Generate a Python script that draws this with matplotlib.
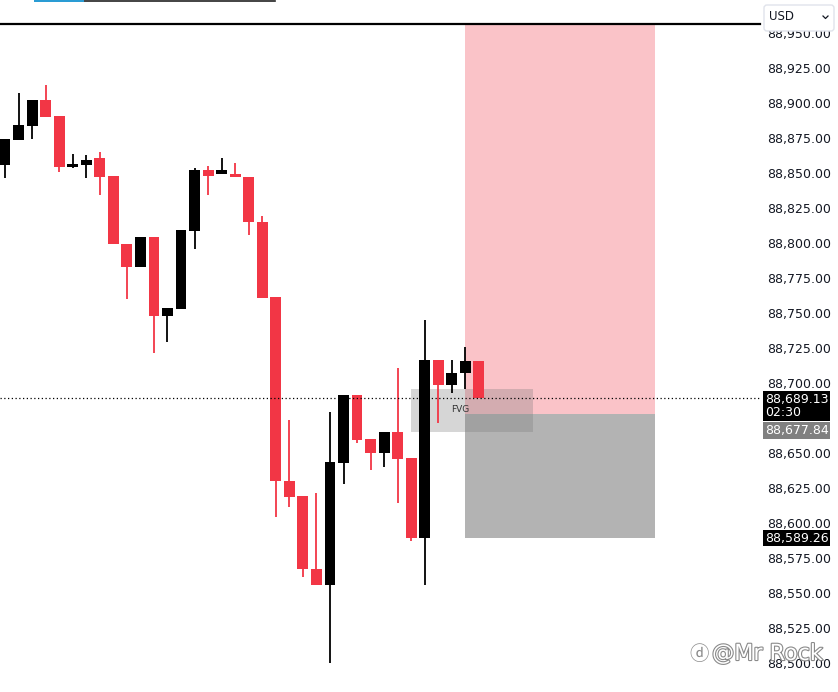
import matplotlib
matplotlib.use('Agg')
import matplotlib.pyplot as plt
import matplotlib.patheffects as pe
from matplotlib.patches import Rectangle, FancyBboxPatch
from matplotlib.lines import Line2D
from matplotlib.transforms import IdentityTransform
from matplotlib.ticker import FuncFormatter

# candle data
opens = [88855.7, 88873.6, 88883.6, 88902.1, 88890.7, 88854.3, 88855.7, 88860.7, 88847.9, 88799.3,
         88782.9, 88804.3, 88747.9, 88752.9, 88808.6, 88852.1, 88849.3, 88849.3, 88847.1, 88815.0,
         88761.4, 88630.0, 88619.3, 88567.1, 88555.7, 88642.9, 88691.4, 88660.0, 88650.0, 88665.0,
         88646.4, 88589.3, 88716.4, 88698.6, 88707.1, 88715.7]
highs = [88874.3, 88907.1, 88902.1, 88912.9, 88890.7, 88863.6, 88862.9, 88865.0, 88847.9, 88799.3,
         88804.3, 88804.3, 88753.6, 88809.3, 88853.6, 88855.0, 88860.7, 88857.1, 88847.1, 88819.3,
         88761.4, 88673.6, 88619.3, 88621.4, 88679.3, 88691.4, 88691.4, 88660.0, 88665.0, 88710.7,
         88646.4, 88745.0, 88716.4, 88716.4, 88725.7, 88715.7]
lows = [88846.4, 88873.6, 88874.3, 88890.0, 88850.7, 88853.6, 88846.4, 88834.3, 88799.3, 88760.0,
        88782.9, 88721.4, 88729.3, 88752.9, 88795.7, 88834.3, 88849.3, 88847.1, 88805.7, 88760.7,
        88604.3, 88611.4, 88561.4, 88555.7, 88500.0, 88627.9, 88657.1, 88637.9, 88640.0, 88614.3,
        88587.1, 88555.7, 88671.4, 88692.9, 88695.7, 88689.13]
closes = [88874.3, 88884.3, 88902.1, 88890.0, 88854.3, 88856.4, 88859.3, 88847.1, 88799.3, 88782.9,
          88804.3, 88747.9, 88753.6, 88809.3, 88852.1, 88847.9, 88852.1, 88847.1, 88815.0, 88760.7,
          88630.0, 88618.6, 88567.1, 88555.7, 88643.6, 88691.4, 88659.3, 88650.0, 88665.0, 88645.7,
          88589.3, 88716.4, 88698.6, 88707.1, 88715.7, 88689.13]

last_price = 88689.13
entry_price = 88677.84
target_price = 88589.26
timer_text = "02:30"
fvg_top, fvg_bottom = 88695.7, 88665.0
fvg_start, fvg_end = 30, 39
pos_start, pos_end = 34, 48
# 88,675 sits under the price labels on the scale, so it is not shown
y_ticks = [v for v in range(88500, 88951, 25) if v != 88675]

RED = '#F23645'
W, H = 838, 692

fig = plt.figure(figsize=(W / 100, H / 100), dpi=100)
ax = fig.add_axes([0, 0, 760 / W, (H - 24) / H])
ax.set_xlim(-0.37, 55.76)
ax.set_ylim(88479.3, 88956.4)

# short position tool
ax.add_patch(Rectangle((pos_start, entry_price), pos_end - pos_start, 400, color='#FAC3C8', lw=0, zorder=1))
ax.add_patch(Rectangle((pos_start, target_price), pos_end - pos_start, entry_price - target_price,
                       color='#B3B3B3', lw=0, zorder=1))

# fair value gap
ax.add_patch(Rectangle((fvg_start, fvg_bottom), fvg_end - fvg_start, fvg_top - fvg_bottom,
                       color='#7a7a7a', alpha=0.3, lw=0, zorder=2))
ax.text((fvg_start + fvg_end) / 2 - 0.9, (fvg_top + fvg_bottom) / 2 + 1, 'FVG', fontsize=6.5,
        color='#333333', ha='center', va='center', zorder=2)

# candles
for i in range(len(opens)):
    o, hi, lo, c = opens[i], highs[i], lows[i], closes[i]
    col = 'black' if c >= o else RED
    ax.vlines(i, lo, hi, color=col, lw=1.3, zorder=3)
    ax.add_patch(Rectangle((i - 0.4, min(o, c)), 0.8, max(abs(c - o), 1.2), color=col, lw=0, zorder=4))

ax.axhline(last_price, color='black', ls=(0, (1, 2)), lw=0.9, zorder=5)

for s in ['left', 'right', 'bottom']:
    ax.spines[s].set_visible(False)
ax.spines['top'].set_linewidth(1.6)
ax.set_xticks([])
ax.yaxis.tick_right()
ax.set_yticks(y_ticks)
ax.yaxis.set_major_formatter(FuncFormatter(lambda v, p: f"{v:,.2f}"))
ax.tick_params(axis='y', length=0, pad=5, labelsize=9, labelcolor='#131722')

# price labels on the scale
ax.annotate(f"{last_price:,.2f}\n{timer_text}", xy=(1, last_price), xycoords=('axes fraction', 'data'),
            xytext=(3.5, 4), textcoords='offset points', va='top', ha='left', fontsize=9,
            color='white', linespacing=1.05, annotation_clip=False,
            bbox=dict(boxstyle='square,pad=0.15', fc='black', ec='none'))
ax.annotate(f"{entry_price:,.2f}", xy=(1, entry_price), xycoords=('axes fraction', 'data'),
            xytext=(3.5, -12), textcoords='offset points', va='center', ha='left', fontsize=9,
            color='white', annotation_clip=False,
            bbox=dict(boxstyle='square,pad=0.15', fc='#808080', ec='none'))
ax.annotate(f"{target_price:,.2f}", xy=(1, target_price), xycoords=('axes fraction', 'data'),
            xytext=(3.5, 0), textcoords='offset points', va='center', ha='left', fontsize=9,
            color='white', annotation_clip=False,
            bbox=dict(boxstyle='square,pad=0.15', fc='black', ec='none'))

# top toolbar bits and currency box (pixel coords)
px = IdentityTransform()
fig.add_artist(Line2D([35, 275], [H - 0.5, H - 0.5], color='#222222', lw=1.2, transform=px))
fig.add_artist(Line2D([35, 83], [H - 0.5, H - 0.5], color='#2a9fd8', lw=1.4, transform=px))
fig.add_artist(FancyBboxPatch((764, H - 31), 70, 26, boxstyle='round,pad=0,rounding_size=3',
                              fc='white', ec='#E0E3EB', lw=1, transform=px))
fig.text(769, H - 17, 'USD', transform=px, fontsize=8.5, color='#131722', va='center', ha='left')
fig.add_artist(Line2D([823, 825.5, 828], [H - 16, H - 18.5, H - 16], color='#131722', lw=0.9, transform=px))

# watermark
fig.text(712, H - 660, '@Mr Rock', transform=px, fontsize=16, color='white', ha='left', va='baseline',
         path_effects=[pe.withStroke(linewidth=1.6, foreground='#8a8a8a')])
fig.text(689, H - 660, 'ⓓ', transform=px, fontsize=14, color='#8a8a8a', ha='left', va='baseline',
         family=['DejaVu Sans', 'Noto Sans CJK SC'])

fig.savefig('out.png', dpi=100)
